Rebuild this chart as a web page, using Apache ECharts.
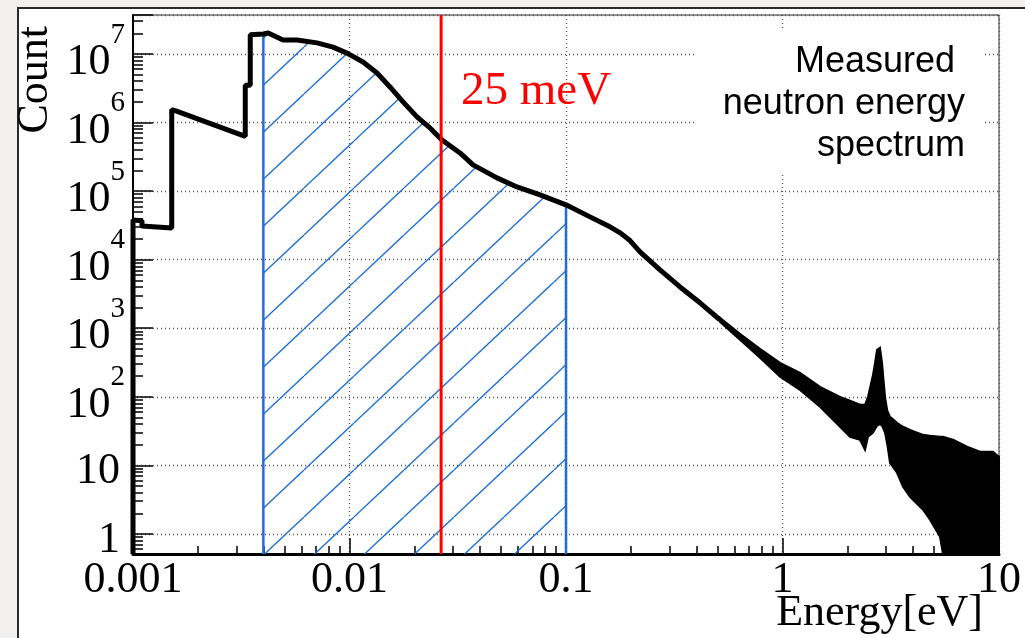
<!DOCTYPE html>
<html lang="en">
<head>
    <meta charset="UTF-8">
    <title>Measured neutron energy spectrum</title>
    <script src="https://cdn.jsdelivr.net/npm/echarts@6/dist/echarts.min.js"></script>
    <style>
        html, body {
            margin: 0;
            width: 1025px;
            height: 638px;
            overflow: hidden;
            background: #f1f0ee;
        }

        .pad {
            position: absolute;
            left: 17px;
            top: 7px;
            right: 0;
            bottom: 0;
            background: #fff;
            border-left: 2px solid #2b2b2b;
            border-top: 2px solid #2b2b2b;
        }

        #main {
            position: absolute;
            left: 0;
            top: 0;
            width: 1025px;
            height: 638px;
        }
    </style>
</head>
<body>
<div class="pad"></div>
<div id="main"></div>
<script type="text/javascript">
    // axis ranges (eV / counts)
    var xMin = 0.001, xMax = 10
    var yMin = 0.51, yMax = 3.7e7
    var xTickLabels = ['0.001', '0.01', '0.1', '1', '10']
    var yTickLabels = ['1', '10', '10^2', '10^3', '10^4', '10^5', '10^6', '10^7']

    // red marker line (25 meV) and hatched range
    var markerEnergy = 0.0265
    var hatchFrom = 0.004, hatchTo = 0.1

    // spectrum up to ~0.5 eV, read as a single thick histogram line
    var lineEnergy = [0.001, 0.001, 0.0011, 0.0011, 0.00151, 0.00151, 0.0016, 0.0033, 0.0033, 0.00348, 0.00348,
        0.004, 0.00421, 0.00493, 0.00572, 0.00708, 0.00839, 0.00974, 0.01155, 0.0134, 0.01538, 0.01767, 0.0205,
        0.02353, 0.02675, 0.0324, 0.0372, 0.048, 0.0594, 0.0759, 0.1, 0.1291, 0.1596, 0.178, 0.1975, 0.2197,
        0.2717, 0.3362, 0.4158, 0.514]
    var lineCount = [yMin, 3.8e4, 3.7e4, 3.1e4, 2.9e4, 1.55e6, 1.45e6, 6.3e5, 3.5e6, 3.5e6, 1.9e7,
        1.96e7, 2.02e7, 1.6e7, 1.6e7, 1.45e7, 1.26e7, 1.03e7, 7.64e6, 5.28e6, 3.3e6, 2.0e6, 1.21e6,
        8.35e5, 5.57e5, 3.6e5, 2.41e5, 1.56e5, 1.15e5, 8.81e4, 6.3e4, 4.21e4, 3.01e4, 2.46e4, 1.9e4, 1.3e4,
        7.1e3, 4.0e3, 2.35e3, 1.33e3]

    // noisy part above ~0.5 eV: upper / lower envelope of the bin-to-bin scatter
    var bandEnergy = [0.514, 0.636, 0.787, 0.974, 1.205, 1.49, 1.843, 2.05, 2.28, 2.405, 2.483, 2.618, 2.675,
        2.733, 2.821, 2.882, 2.975, 3.05, 3.138, 3.38, 3.604, 3.882, 4.457, 4.801, 5.34, 5.512, 6.131, 7.116,
        8.171, 9.383, 10]
    var bandHigh = [1.42e3, 828, 501, 313, 224, 140, 100, 87.5, 76.5, 76.5, 100, 209, 313,
        484, 518, 313, 100, 62, 51.1, 41.8, 36.6, 33, 27.9, 27, 26.1, 26.1, 23.6, 18.7,
        15.8, 15.8, 13.3]
    var bandLow = [1.24e3, 677, 371, 196, 126, 71.5, 36.6, 26.1, 23.6, 16.9, 26.1, 30, 34,
        38, 40, 38, 30, 20, 10.9, 7.8, 4.88, 3.48, 2.25, 1.61, 0.91, yMin, yMin, yMin,
        yMin, yMin, yMin]

    var hatchData = [[hatchFrom, yMin]]
    lineEnergy.forEach(function (e, i) {
        if (e >= hatchFrom && e <= hatchTo) hatchData.push([e, lineCount[i]])
    })
    hatchData.push([hatchTo, yMin])

    function hatchTile() {
        var w = 50, h = 47, shift = 4
        var c = document.createElement('canvas')
        c.width = w
        c.height = h
        var g = c.getContext('2d')
        g.strokeStyle = '#1f6fd2'
        g.lineWidth = 1.3
        ;[-w, 0, w].forEach(function (dx) {
            g.beginPath()
            g.moveTo(dx + shift, h)
            g.lineTo(dx + shift + w, 0)
            g.stroke()
        })
        return c
    }

    function yLabel(v) {
        var p = Math.log10(v), k = Math.round(p)
        if (Math.abs(p - k) > 1e-6 || k < 0 || k >= yTickLabels.length) return ''
        var s = yTickLabels[k].split('^')
        return s.length > 1 ? '{b|' + s[0] + '}{e|' + s[1] + '}' : '{p|' + s[0] + '}'
    }

    var serif = '"Liberation Serif", "Times New Roman", serif'
    var dotted = {color: '#555', type: [1, 3], width: 1.3}

    var myChart = echarts.init(document.getElementById('main'))
    myChart.setOption({
        backgroundColor: 'transparent',
        animation: false,
        grid: {
            left: 133, top: 15, width: 866, height: 539,
            show: true, borderColor: '#222', borderWidth: 1, backgroundColor: '#fff'
        },
        xAxis: {
            type: 'log', logBase: 10, min: xMin, max: xMax,
            axisLine: {onZero: false, lineStyle: {color: '#000', width: 3}},
            axisTick: {inside: true, length: 16, lineStyle: {color: '#000', width: 1.5}},
            minorTick: {show: true, splitNumber: 9, length: 8, lineStyle: {color: '#000', width: 1.5}},
            splitLine: {show: true, lineStyle: dotted},
            axisLabel: {
                margin: 4, color: '#000', fontFamily: serif, fontSize: 44, lineHeight: 44,
                formatter: function (v) {
                    return xTickLabels[Math.round(Math.log10(v)) + 3] || ''
                }
            }
        },
        yAxis: {
            type: 'log', logBase: 10, min: yMin, max: yMax,
            axisLine: {lineStyle: {color: '#000', width: 2}},
            axisTick: {inside: true, length: 20, lineStyle: {color: '#000', width: 1.5}},
            minorTick: {show: true, splitNumber: 9, length: 10, lineStyle: {color: '#000', width: 1.5}},
            splitLine: {show: true, lineStyle: dotted},
            axisLabel: {
                margin: 8, color: '#000',
                formatter: yLabel,
                rich: {
                    b: {fontFamily: serif, fontSize: 44, lineHeight: 44, color: '#000', padding: [20, 0, 3, 0]},
                    e: {fontFamily: serif, fontSize: 29, lineHeight: 29, color: '#000', padding: [0, 0, 38, 0]},
                    p: {fontFamily: serif, fontSize: 44, lineHeight: 44, color: '#000', padding: [12, 5, 0, 0]}
                }
            }
        },
        series: [
            {
                name: 'hatched', type: 'line', z: 1, silent: true,
                showSymbol: false, symbol: 'none',
                data: hatchData,
                lineStyle: {color: '#1f6fd2', width: 2.5},
                areaStyle: {origin: 'start', color: {image: hatchTile(), repeat: 'repeat'}, opacity: 1}
            },
            {
                name: 'spectrum', type: 'line', z: 3, silent: true, clip: false,
                showSymbol: false, symbol: 'none',
                data: lineEnergy.map(function (e, i) {
                    return [e, lineCount[i]]
                }),
                lineStyle: {color: '#000', width: 5}
            },
            {
                name: 'scatter band', type: 'custom', coordinateSystem: 'cartesian2d', z: 3, silent: true,
                data: [[1, 1]],
                renderItem: function (params, api) {
                    var top = bandEnergy.map(function (e, i) {
                        return api.coord([e, bandHigh[i]])
                    })
                    var bottom = bandEnergy.map(function (e, i) {
                        return api.coord([e, bandLow[i]])
                    }).reverse()
                    return {
                        type: 'polygon',
                        shape: {points: top.concat(bottom)},
                        style: {fill: '#000', stroke: '#000', lineWidth: 2}
                    }
                }
            },
            {
                name: '25 meV', type: 'line', z: 4, silent: true, clip: false,
                showSymbol: false, symbol: 'none',
                data: [[markerEnergy, yMin], [markerEnergy, yMax]],
                lineStyle: {color: '#ff0000', width: 3}
            }
        ],
        graphic: [
            {type: 'rect', z: 50, shape: {x: 695, y: 30, width: 290, height: 145}, style: {fill: '#fff'}},
            {
                type: 'text', z: 51, x: 965, y: 104,
                style: {
                    text: 'Measured \nneutron energy\nspectrum', font: '36px "Liberation Sans", Arial, sans-serif',
                    fill: '#000', align: 'right', verticalAlign: 'middle', lineHeight: 42
                }
            },
            {
                type: 'text', z: 51, x: 461, y: 92,
                style: {text: '25 meV', font: '47px ' + serif, fill: '#ff0000', align: 'left', verticalAlign: 'middle'}
            },
            {
                type: 'text', z: 51, x: 983, y: 613,
                style: {text: 'Energy[eV]', font: '44px ' + serif, fill: '#000', align: 'right', verticalAlign: 'middle'}
            },
            {
                type: 'text', z: 51, x: 35, y: 26, rotation: Math.PI / 2,
                style: {text: 'Count', font: '44px ' + serif, fill: '#000', align: 'right', verticalAlign: 'middle'}
            }
        ]
    })
</script>
</body>
</html>
